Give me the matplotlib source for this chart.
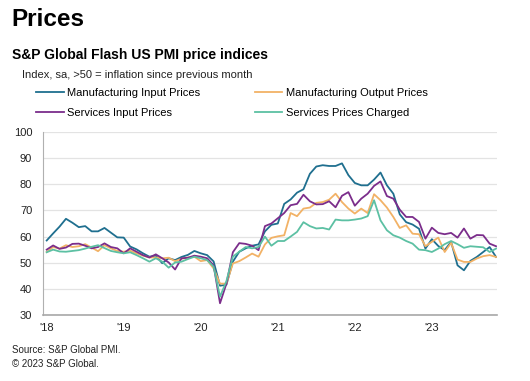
import numpy as np
import matplotlib
matplotlib.use('Agg')
import matplotlib.pyplot as plt

plt.rcParams['font.family'] = ['Liberation Sans', 'DejaVu Sans']

# monthly flash PMI price indices, Jan 2018 .. Nov 2023
mfg_input = [
    58.5, 61.2, 63.8, 66.8, 65.3, 63.6, 64.0, 62.0, 62.0, 63.3, 61.5, 59.7,
    59.6, 56.2, 55.1, 53.6, 52.3, 52.7, 49.8, 51.7, 51.0, 52.2, 53.0, 54.5,
    53.6, 52.9, 50.5, 41.2, 41.6, 50.4, 54.2, 55.5, 56.5, 57.0, 62.0, 64.5,
    65.0, 72.5, 74.2, 76.8, 78.1, 84.0, 86.8, 87.3, 87.0, 87.0, 88.0, 83.5,
    80.5, 79.6, 79.6, 81.8, 84.5, 79.6, 76.4, 68.5, 65.5, 64.6, 63.0, 55.4,
    59.0, 56.4, 54.8, 58.0, 49.0, 47.1, 50.7, 52.2, 54.1, 56.0, 52.2]
mfg_output = [
    54.1, 56.0, 55.4, 56.7, 56.0, 56.3, 57.1, 55.8, 54.4, 56.7, 55.5, 54.5,
    54.2, 54.6, 53.6, 52.7, 52.0, 52.0, 51.7, 51.9, 50.6, 51.5, 52.0, 52.3,
    50.6, 51.0, 47.8, 42.0, 42.0, 49.7, 50.6, 52.0, 53.5, 52.3, 57.0, 59.5,
    60.1, 60.5, 69.0, 67.8, 70.7, 71.1, 72.9, 73.2, 74.1, 76.4, 73.2, 70.7,
    68.8, 70.7, 69.0, 76.2, 73.9, 71.1, 67.5, 63.3, 64.3, 61.1, 60.9, 56.3,
    58.0, 59.6, 54.1, 57.6, 51.2, 50.3, 50.3, 51.6, 52.5, 52.9, 52.2]
svc_input = [
    55.0, 56.6, 55.3, 55.8, 57.2, 57.3, 56.5, 55.5, 56.0, 57.4, 56.0, 55.5,
    53.6, 55.5, 54.2, 52.9, 52.0, 53.2, 51.7, 50.1, 47.4, 51.7, 51.9, 52.7,
    52.3, 51.7, 49.0, 34.5, 42.0, 54.0, 57.5, 57.2, 56.5, 54.8, 64.0, 65.0,
    67.0, 69.0, 72.0, 72.5, 76.0, 73.5, 72.3, 72.4, 73.5, 71.2, 75.6, 77.0,
    71.8, 74.5, 76.4, 79.4, 81.1, 75.5, 74.5, 70.3, 67.5, 67.5, 65.6, 59.2,
    63.4, 61.4, 60.9, 61.4, 59.6, 63.1, 59.2, 60.6, 60.5, 57.3, 56.3]
svc_charged = [
    54.0, 55.0, 54.3, 54.2, 54.5, 54.8, 55.4, 56.1, 56.7, 55.6, 54.5, 54.0,
    53.6, 54.0, 52.9, 51.7, 50.4, 51.7, 50.4, 48.1, 50.1, 50.4, 51.4, 52.3,
    51.7, 51.0, 48.5, 37.0, 43.0, 52.3, 54.2, 56.0, 55.5, 56.0, 60.0, 56.5,
    58.3, 58.3, 60.0, 61.8, 65.5, 64.0, 63.1, 63.3, 62.7, 66.5, 66.2, 66.2,
    66.5, 66.9, 67.8, 73.9, 66.2, 62.4, 60.5, 59.6, 58.3, 57.3, 55.0, 54.8,
    54.1, 55.4, 57.1, 58.3, 57.1, 55.7, 56.3, 56.1, 55.9, 54.1, 55.4]

year_labels = ["'18", "'19", "'20", "'21", "'22", "'23"]

series = [
    ('Manufacturing Input Prices', mfg_input, '#1f6f8f'),
    ('Manufacturing Output Prices', mfg_output, '#f2b266'),
    ('Services Input Prices', svc_input, '#7b2d8b'),
    ('Services Prices Charged', svc_charged, '#5cc0a3'),
]

W, H = 530, 381
fig = plt.figure(figsize=(W / 100, H / 100), dpi=100)
ax = fig.add_axes([43.3 / W, 1 - 315 / H, (497 - 43.3) / W, (315 - 132) / H])

x = np.arange(len(mfg_input))
lines = {}
for name, vals, col in series:
    lines[name], = ax.plot(x, vals, color=col, lw=1.3, label=name)

ax.set_ylim(30, 100)
ax.set_xlim(-0.53, len(x) - 1 + 0.15)
ax.set_yticks(np.arange(30, 101, 10))
ax.set_xticks(np.arange(0, len(x), 12))
ax.set_xticklabels(year_labels)
ax.tick_params(length=0, labelsize=8, colors='#222222', pad=6)
ax.tick_params(axis='y', pad=8)
ax.grid(axis='y', color='#e3e3e3', lw=0.9)
ax.set_axisbelow(True)
for s in ['top', 'right']:
    ax.spines[s].set_visible(False)
ax.spines['left'].set_color('#b0b0b0')
ax.spines['bottom'].set_color('#a8a8a8')
ax.spines['bottom'].set_linewidth(1.2)

fig.text(11 / W, 1 - 20 / H, 'Prices', fontsize=17.5, fontweight='bold', va='center')
fig.text(12 / W, 1 - 55 / H, 'S&P Global Flash US PMI price indices',
         fontsize=10, fontweight='bold', va='center')
fig.text(22 / W, 1 - 75 / H, 'Index, sa, >50 = inflation since previous month',
         fontsize=8, va='center', color='#222222')

# legend fills column by column: put items so rows read MIP/MOP, SIP/SPC
order = ['Manufacturing Input Prices', 'Services Input Prices',
         'Manufacturing Output Prices', 'Services Prices Charged']
fig.legend([lines[n] for n in order], order, loc='upper left',
           bbox_to_anchor=(36 / W, 1 - 88 / H), ncol=2,
           frameon=False, fontsize=8, handlelength=2.5, handletextpad=0.3,
           columnspacing=4.9, labelspacing=0.92, borderpad=0, borderaxespad=0)

fig.text(12 / W, 1 - 350 / H, 'Source: S&P Global PMI.', fontsize=7, va='center', color='#222222')
fig.text(12 / W, 1 - 364 / H, '\u00a9 2023 S&P Global.', fontsize=7, va='center', color='#222222')

fig.savefig('out.png', dpi=100)
